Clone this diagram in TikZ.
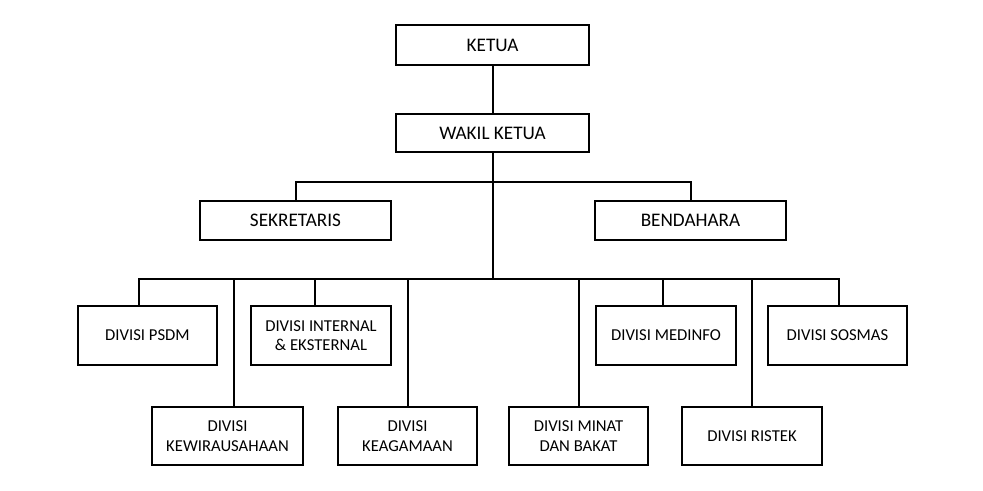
\documentclass[tikz,border=0pt]{standalone}
\usepackage{fontspec}
\setmainfont{Carlito}
\usetikzlibrary{positioning}

\tikzset{
    orgbox/.style={draw, line width=1.5pt, rectangle, inner sep=0pt, align=center,
                   font=\fontsize{12.5}{14.5}\selectfont},
    headbox/.style={orgbox, font=\fontsize{14.4}{16}\selectfont},
    orgline/.style={line width=1.5pt}
}

\begin{document}
\begin{tikzpicture}[x=0.75pt, y=-0.75pt]

\useasboundingbox (0, 0) rectangle (983, 491);

\begin{scope}[every node/.style={orgbox}]
    \node (ketua) at (492.5, 45) [headbox, minimum width=144.75pt, minimum height=30pt] {KETUA};
    \node (wakil) at (492.5, 133) [headbox, minimum width=144.75pt, minimum height=28.5pt] {WAKIL KETUA};

    \node (sekretaris) at (295.5, 220.5) [headbox, minimum width=143.25pt, minimum height=29.25pt] {SEKRETARIS};
    \node (bendahara) at (690.5, 220.5) [headbox, minimum width=143.25pt, minimum height=29.25pt] {BENDAHARA};

    \node (psdm) at (147.5, 335.5) [minimum width=104.25pt, minimum height=44.25pt] {DIVISI PSDM};
    \node (internal) at (321, 335.5) [minimum width=105pt, minimum height=44.25pt] {DIVISI INTERNAL\\\& EKSTERNAL};
    \node (medinfo) at (666, 335.5) [minimum width=105pt, minimum height=44.25pt] {DIVISI MEDINFO};
    \node (sosmas) at (837.5, 335.5) [minimum width=104.25pt, minimum height=44.25pt] {DIVISI SOSMAS};

    \node (kewira) at (227.5, 436) [minimum width=113.25pt, minimum height=43.5pt] {DIVISI\\KEWIRAUSAHAAN};
    \node (agama) at (407.5, 436) [minimum width=104.25pt, minimum height=43.5pt] {DIVISI\\KEAGAMAAN};
    \node (minat) at (578.5, 436) [minimum width=104.25pt, minimum height=43.5pt] {DIVISI MINAT\\DAN BAKAT};
    \node (ristek) at (752, 436) [minimum width=105pt, minimum height=43.5pt] {DIVISI RISTEK};
\end{scope}

\coordinate (topbus) at (492.5, 182);
\coordinate (divbus) at (492.5, 279);

\begin{scope}[every path/.style={orgline}]
    \draw (ketua) -- (wakil);
    \draw (wakil) -- (divbus);

    \draw (sekretaris.north) |- (topbus) -| (bendahara.north);

    \draw ([xshift=-6.4pt]psdm.north) |- (divbus) -| ([xshift=1pt]sosmas.north);
    \draw ([xshift=-4.5pt]internal.north) |- (divbus);
    \draw ([xshift=-2.25pt]medinfo.north) |- (divbus);
    \draw ([xshift=4.9pt]kewira.north) |- (divbus);
    \draw (agama.north) |- (divbus);
    \draw (minat.north) |- (divbus);
    \draw (ristek.north) |- (divbus);
\end{scope}

\end{tikzpicture}
\end{document}
